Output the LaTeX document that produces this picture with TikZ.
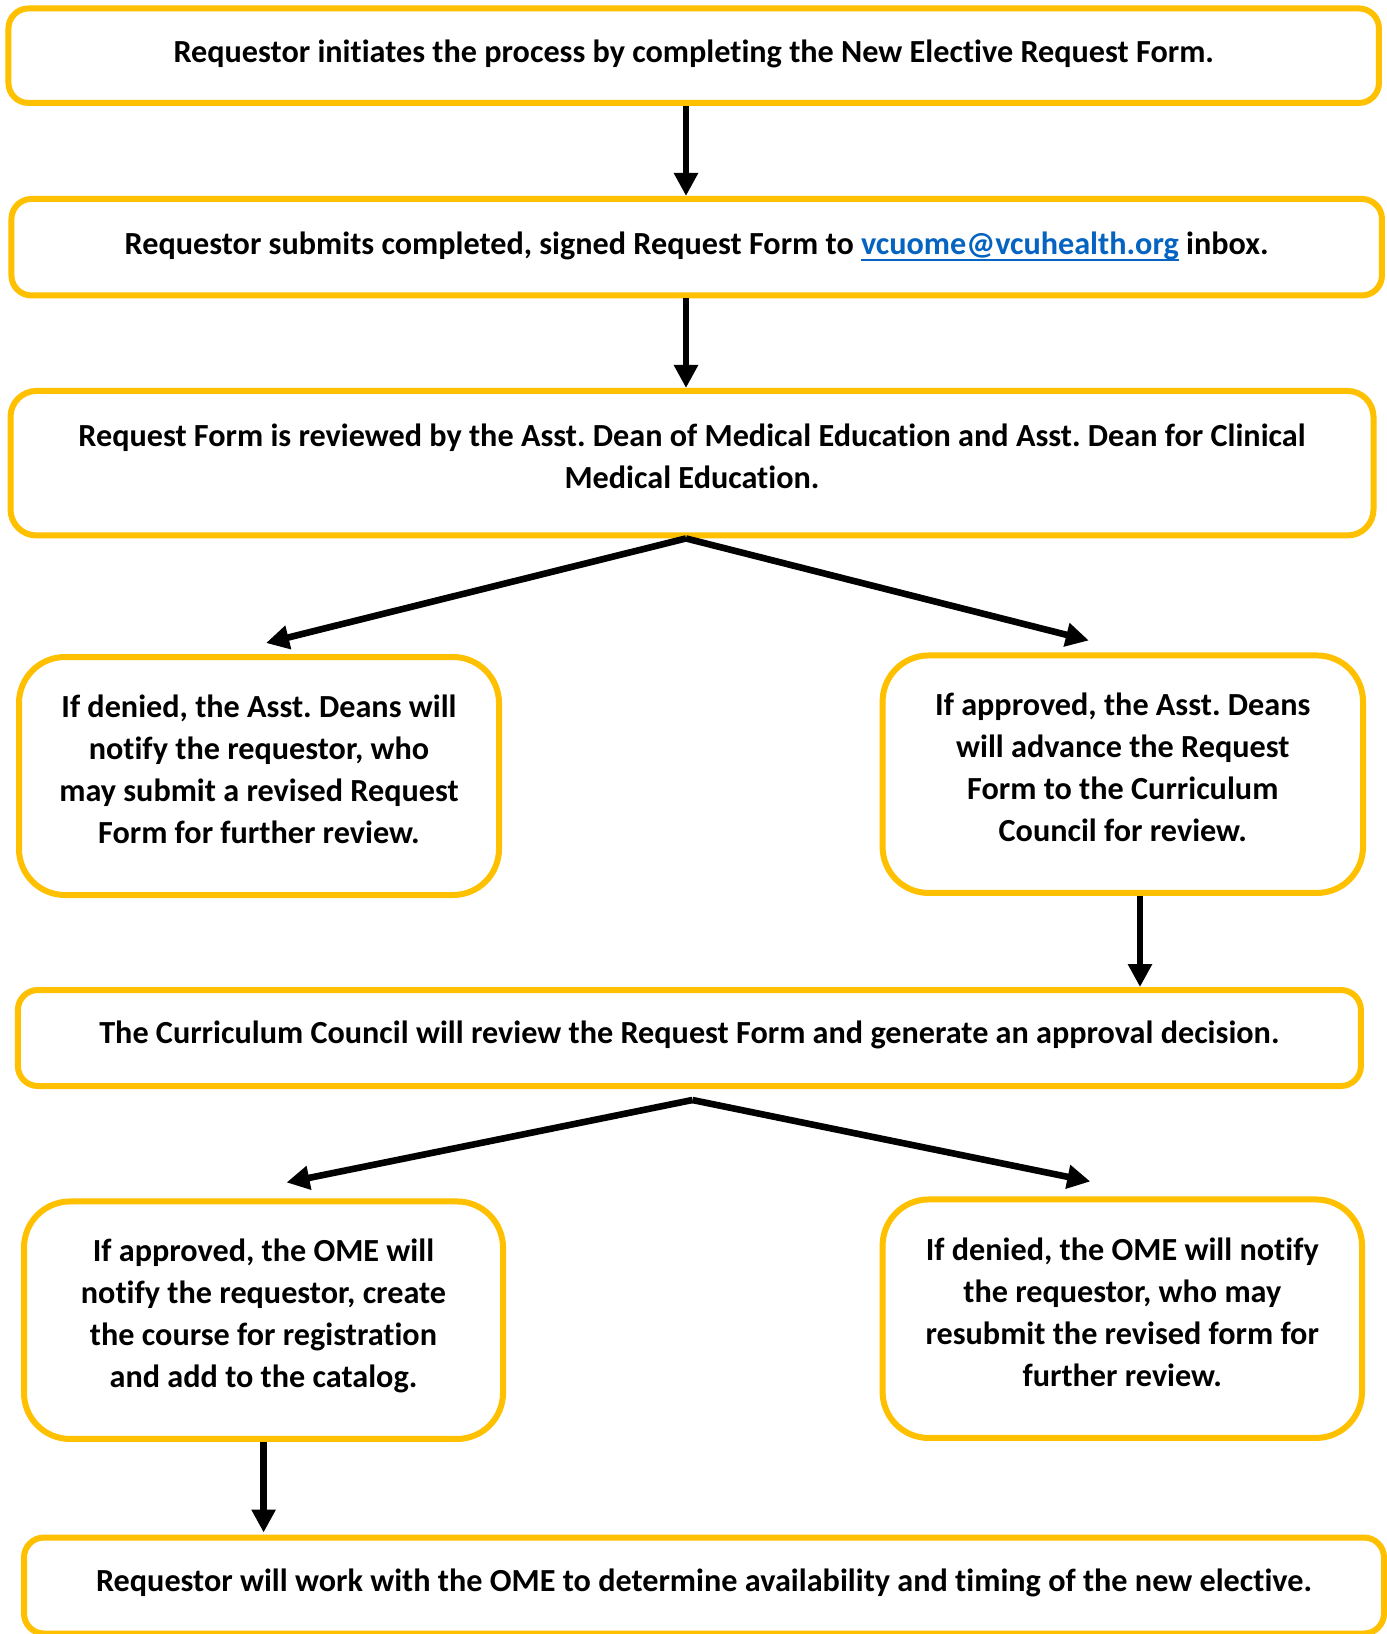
\documentclass[tikz,border=0pt]{standalone}
\usepackage{fontspec}
\setmainfont{Carlito}[Ligatures=NoCommon]
\usetikzlibrary{arrows.meta,calc}
\definecolor{boxgold}{HTML}{FFC000}
\definecolor{linkblue}{HTML}{0563C1}
\newcommand\linkul[1]{\setbox0\hbox{#1}\rlap{\rule[-3.4pt]{\wd0}{1.1pt}}\box0}
\tikzset{
  box/.style={draw=boxgold, line width=3pt, fill=white, inner sep=0pt},
  flat/.style={box, rounded corners=10pt},
  tall/.style={box, rounded corners=23pt},
  txt/.style={align=center, inner sep=0pt, text=black,
    font=\fontsize{16.1}{21}\selectfont\bfseries\frenchspacing},
  arr/.style={line width=3.3pt, -{Triangle[length=11.5pt,width=11.5pt]}}
}
\begin{document}
\begin{tikzpicture}[x=0.5pt,y=-0.5pt]
\useasboundingbox (0,0) rectangle (1387,1634);
\clip (0,0) rectangle (1387,1634);
\fill[white] (0,0) rectangle (1387,1634);

\node[flat, minimum width=685.25pt, minimum height=47.25pt] (b1) at (693.7,55.7) {};
\node[flat, minimum width=685.25pt, minimum height=48.25pt] (b2) at (696.7,247.2) {};
\node[box, rounded corners=13pt, minimum width=681.5pt, minimum height=72.25pt] (b3) at (692,463.2) {};
\node[tall, minimum width=240pt, minimum height=119pt] (b4) at (259,776) {};
\node[tall, minimum width=240.2pt, minimum height=118.75pt] (b5) at (1122.8,774.2) {};
\node[flat, minimum width=671.5pt, minimum height=48pt] (b6) at (689.4,1038) {};
\node[tall, minimum width=239.5pt, minimum height=118.75pt] (b7) at (263.5,1320.2) {};
\node[tall, minimum width=239.7pt, minimum height=119.25pt] (b8) at (1122.3,1318.7) {};
\node[flat, minimum width=680pt, minimum height=48pt] (b9) at (704,1585.5) {};

\node[txt] (t1) at ($(b1.center)+(0,-2)$)
  {Requestor initiates the process by completing the New Elective Request Form.};
\node[txt] (t2) at ($(b2.center)+(0,-1)$)
  {Requestor submits completed, signed Request Form to \textcolor{linkblue}{\linkul{vcuome@vcuhealth.org}} inbox.};
\node[txt] (t3) at ($(b3.center)+(0,-7)$)
  {Request Form is reviewed by the Asst. Dean of Medical Education and Asst. Dean for Clinical\\Medical Education.};
\node[txt] (t4) at ($(b4.center)+(0,-7)$)
  {If denied, the Asst. Deans will\\notify the requestor, who\\may submit a revised Request\\Form for further review.};
\node[txt] (t5) at ($(b5.center)+(0,-7)$)
  {If approved, the Asst. Deans\\will advance the Request\\Form to the Curriculum\\Council for review.};
\node[txt] (t6) at ($(b6.center)+(0,-3)$)
  {The Curriculum Council will review the Request Form and generate an approval decision.};
\node[txt] (t7) at ($(b7.center)+(0,-4)$)
  {If approved, the OME will\\notify the requestor, create\\the course for registration\\and add to the catalog.};
\node[txt] (t8) at ($(b8.center)+(0,-6)$)
  {If denied, the OME will notify\\the requestor, who may\\resubmit the revised form for\\further review.};
\node[txt] (t9) at ($(b9.center)+(0,-3)$)
  {Requestor will work with the OME to determine availability and timing of the new elective.};

\draw[arr] (b1.south -| 686,0) -- (b2.north -| 686,0);
\draw[arr] (b2.south -| 686,0) -- (b3.north -| 686,0);
\draw[arr] (b3.south -| 686,0) -- ($(b4.north)+(7,-11)$);
\draw[arr] (b3.south -| 686,0) -- ($(b5.north)+(-34,-12)$);
\draw[arr] (b5.south -| 1140,0) -- (b6.north -| 1140,0);
\draw[arr] ($(b6.south)+(3,11)$) -- ($(b7.north)+(23,-16)$);
\draw[arr] ($(b6.south)+(3,11)$) -- ($(b8.north)+(-32,-15)$);
\draw[arr] (b7.south -| 263.6,0) -- ($(b9.north -| 263.6,0)+(0,-2)$);
\end{tikzpicture}
\end{document}
